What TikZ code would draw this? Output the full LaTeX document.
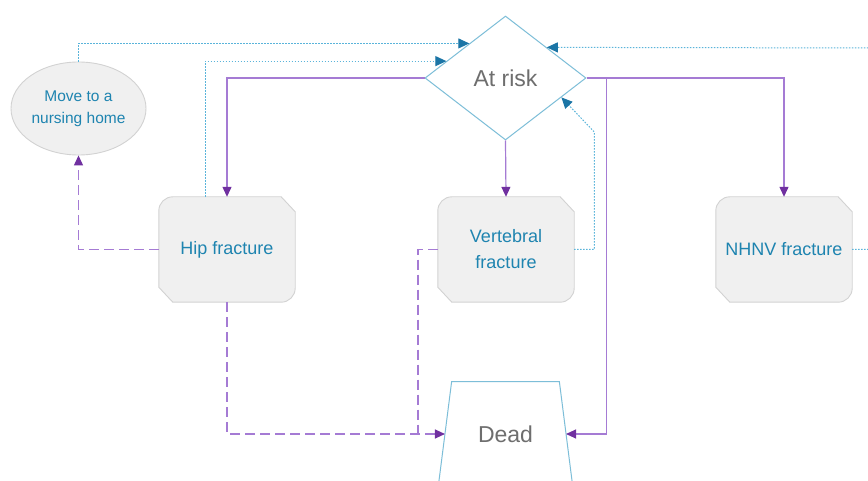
\documentclass[tikz,border=0pt]{standalone}
\usepackage{fontspec}
\setmainfont{Liberation Sans}
\usetikzlibrary{shapes.geometric,arrows.meta,calc,backgrounds}

\definecolor{boxfill}{HTML}{F0F0F0}
\definecolor{boxline}{HTML}{D2D2D2}
\definecolor{labelblue}{HTML}{1E84B0}
\definecolor{outlineblue}{HTML}{7DBED8}
\definecolor{dotblue}{HTML}{5AB4DA}
\definecolor{tipblue}{HTML}{1B75A6}
\definecolor{linepurple}{HTML}{A57BD4}
\definecolor{tippurple}{HTML}{7030A0}
\definecolor{greytext}{HTML}{6E6E6E}

\tikzset{
  fracbox/.style={minimum width=136pt, minimum height=105pt, inner sep=0pt,
    align=center, text=labelblue, font=\fontsize{18}{26}\selectfont},
  boxshape/.style={fill=boxfill, draw=boxline, line width=0.9pt},
  homenode/.style={ellipse, fill=boxfill, draw=boxline, line width=0.9pt,
    minimum width=135pt, minimum height=93pt, inner sep=0pt, align=center,
    text=labelblue, font=\fontsize{15.5}{22}\selectfont},
  risknode/.style={diamond, draw=outlineblue, line width=1pt, fill=white,
    minimum width=161pt, minimum height=124pt, inner sep=0pt,
    text=greytext, font=\fontsize{23}{26}\selectfont},
  deadnode/.style={minimum width=120.7pt, minimum height=104.6pt, inner sep=0pt,
    text=greytext, font=\fontsize{23}{26}\selectfont},
  deadshape/.style={draw=outlineblue, line width=1pt, fill=white},
  purp/.style={draw=linepurple, line width=1.2pt,
    -{Triangle[length=10pt,width=9pt,color=tippurple]}},
  purpdash/.style={purp, dash pattern=on 10pt off 5pt},
  purpdashplain/.style={draw=linepurple, line width=1.2pt, dash pattern=on 10pt off 5pt},
  dots/.style={draw=dotblue, line width=1pt, dash pattern=on 1.5pt off 1.5pt,
    -{Triangle[length=11pt,width=10pt,color=tipblue]}}
}

% body of a fracture box: rounded top-left and bottom-right, cut top-right and bottom-left
\newcommand\cutbox[1]{%
  \path[boxshape] let \p1=(#1.north west), \p2=(#1.south east) in
    (\x1,\y1-14pt) .. controls (\x1,\y1-6.3pt) and (\x1+6.3pt,\y1) .. (\x1+14pt,\y1)
    -- (\x2-14pt,\y1) -- (\x2,\y1-15pt)
    -- (\x2,\y2+14pt) .. controls (\x2,\y2+6.3pt) and (\x2-6.3pt,\y2) .. (\x2-14pt,\y2)
    -- (\x1+14pt,\y2) -- (\x1,\y2+15pt) -- cycle;}

% trapezoid whose slanted sides pass through the node's west and east anchors
\newcommand\trapbox[1]{%
  \path[deadshape] let \p1=(#1.north west), \p2=(#1.south east) in
    (\x1+6.7pt,\y1) -- (\x2-6.7pt,\y1) -- (\x2+6.7pt,\y2) -- (\x1-6.7pt,\y2) -- cycle;}

\begin{document}
\begin{tikzpicture}[x=1pt,y=-1pt]
\clip (0,0) rectangle (868,481);

% states
\node[homenode] (home) at (78.5,108.5) {Move to a\\nursing home};
\node[risknode] (risk) at (505.5,78) {At risk};
\node[fracbox] (hip) at (227,249.5) {Hip fracture};
\node[fracbox] (vert) at (506,249.5) {Vertebral\\fracture};
\node[fracbox] (nhnv) at (784,249.5) {NHNV fracture};
\node[deadnode] (dead) at (505.5,434) {Dead};

\begin{scope}[on background layer]
  \fill[white] (0,0) rectangle (868,481);
  \cutbox{hip}
  \cutbox{vert}
  \cutbox{nhnv}
  \trapbox{dead}
\end{scope}

% helper points for elbows
\coordinate (dr) at (606.7,434);
\coordinate (vj) at (418,434);
\coordinate (vb) at (594.3,132);
\coordinate (nr) at (890,48);
\coordinate (hs) at ($(hip.north west)!0.34!(hip.north east)$);
\coordinate (r1) at ($(risk.west)!0.553!(risk.north)$);
\coordinate (r2) at ($(risk.west)!0.27!(risk.north)$);
\coordinate (r3) at ($(risk.east)!0.31!(risk.south)$);
\coordinate (r4) at ($(risk.north)!0.51!(risk.east)$);

% transitions from at risk
\draw[purp] (risk.west) -| (hip.north);
\draw[purp] (risk.south) -- (vert.north);
\draw[purp] (risk.east) -| (nhnv.north);
\draw[purp] (risk.east) -| (dr) -- (dead.east);

% transitions after a fracture
\draw[purpdash] (hip.west) -| (home.south);
\draw[purpdash] (hip.south) |- (dead.west);
\draw[purpdashplain] (vert.west) -| (vj);

% returns to at risk
\draw[dots] (home.north) |- (r1);
\draw[dots] (hs) |- (r2);
\draw[dots] (vert.east) -| (vb) -- (r3);
\draw[dots] (nhnv.east) -| (nr) -- (r4);
\end{tikzpicture}
\end{document}
